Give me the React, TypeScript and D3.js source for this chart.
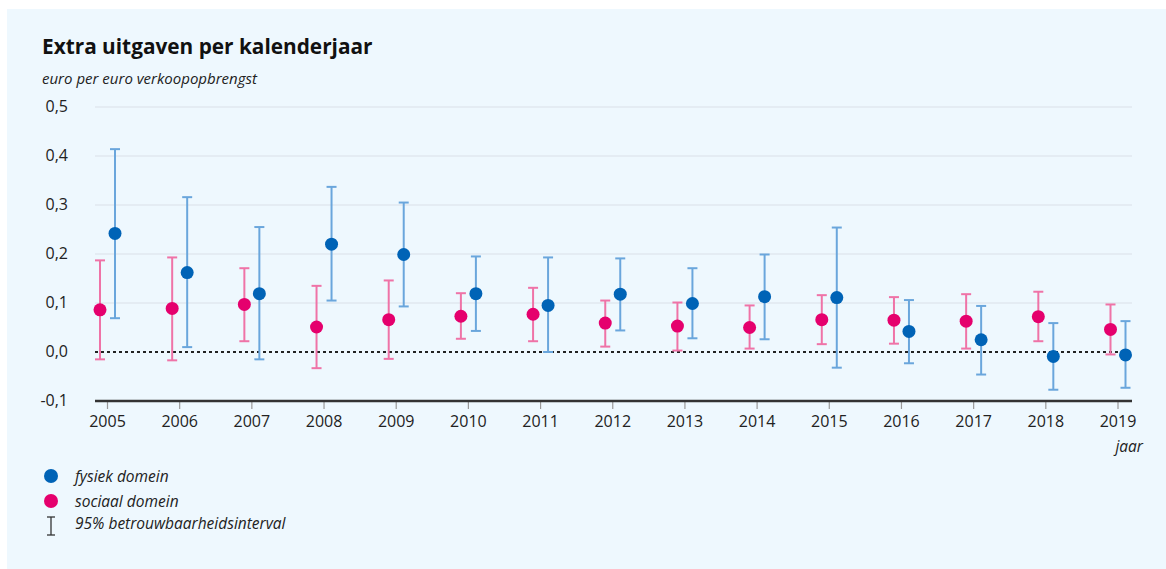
import React from "react";
import * as d3 from "d3";

const years = ["2005","2006","2007","2008","2009","2010","2011","2012","2013","2014","2015","2016","2017","2018","2019"];
const fysiekValue = [0.242,0.162,0.119,0.220,0.199,0.119,0.095,0.118,0.099,0.113,0.111,0.042,0.025,-0.009,-0.006];
const fysiekLow = [0.069,0.010,-0.015,0.105,0.093,0.043,0.000,0.044,0.028,0.026,-0.032,-0.023,-0.046,-0.077,-0.073];
const fysiekHigh = [0.414,0.316,0.255,0.337,0.305,0.195,0.193,0.191,0.171,0.199,0.254,0.106,0.094,0.059,0.063];
const sociaalValue = [0.086,0.089,0.097,0.051,0.066,0.073,0.077,0.059,0.053,0.050,0.066,0.065,0.063,0.072,0.046];
const sociaalLow = [-0.015,-0.017,0.022,-0.033,-0.014,0.027,0.022,0.011,0.003,0.007,0.016,0.017,0.007,0.022,-0.005];
const sociaalHigh = [0.187,0.193,0.171,0.135,0.146,0.120,0.131,0.105,0.101,0.095,0.116,0.112,0.118,0.123,0.097];
const yTicks = [-0.1,0,0.1,0.2,0.3,0.4,0.5];

const W = 1166, H = 569;
const FONT = "'Open Sans', 'Noto Sans', sans-serif";
const BLUE = "#0063b6", BLUE_BAR = "#6aa6dc";
const PINK = "#e5006d", PINK_BAR = "#ef73a7";

export default function App() {
  const x = d3.scalePoint<string>().domain(years).range([107.5, 1118]);
  const y = d3.scaleLinear().domain([-0.1, 0.5]).range([401, 107]);
  const fmt = (v: number) => d3.format(".1f")(v).replace(".", ",").replace("−", "-");
  const off = 7.5;
  const cap = 5;

  const series = [
    { key: "s", dx: -off, val: sociaalValue, lo: sociaalLow, hi: sociaalHigh, c: PINK, bc: PINK_BAR },
    { key: "f", dx: off, val: fysiekValue, lo: fysiekLow, hi: fysiekHigh, c: BLUE, bc: BLUE_BAR },
  ];

  return (
    <svg width={W} height={H} style={{ position: "absolute", left: 0, top: 0 }} xmlns="http://www.w3.org/2000/svg">
      <rect x={0} y={0} width={W} height={H} fill="#ffffff" />
      <rect x={7} y={9} width={W - 7} height={H - 9} fill="#eef8fe" />
      <text x={42} y={54} fontFamily={FONT} fontWeight={700} fontSize={20.8} fill="#111">Extra uitgaven per kalenderjaar</text>
      <text x={42} y={84} fontFamily={FONT} fontStyle="italic" fontSize={15} fill="#222">euro per euro verkoopopbrengst</text>

      {yTicks.filter(t => t > 0).map(t => (
        <line key={"g" + t} x1={95} x2={1132} y1={y(t)} y2={y(t)} stroke="#d9e0e7" strokeWidth={1.2} />
      ))}
      {yTicks.map(t => (
        <text key={"yl" + t} x={68} y={y(t) + 5} textAnchor="end" fontFamily={FONT} fontSize={16} fill="#222">{fmt(t)}</text>
      ))}

      <line x1={95} x2={1132} y1={y(0)} y2={y(0)} stroke="#222" strokeWidth={2} strokeDasharray="3,3" />

      {years.map(yr => (
        <g key={"xt" + yr}>
          <line x1={x(yr)} x2={x(yr)} y1={401} y2={409} stroke="#999" strokeWidth={1.2} />
          <text x={x(yr)} y={427} textAnchor="middle" fontFamily={FONT} fontSize={16} fill="#222">{yr}</text>
        </g>
      ))}
      <line x1={95} x2={1132} y1={401} y2={401} stroke="#333" strokeWidth={2.5} />
      <text x={1143} y={452} textAnchor="end" fontFamily={FONT} fontStyle="italic" fontSize={15.5} fill="#222">jaar</text>

      {series.map(s => (
        <g key={s.key}>
          {years.map((yr, i) => {
            const cx = (x(yr) as number) + s.dx;
            return (
              <g key={yr}>
                <line x1={cx} x2={cx} y1={y(s.lo[i])} y2={y(s.hi[i])} stroke={s.bc} strokeWidth={2} />
                <line x1={cx - cap} x2={cx + cap} y1={y(s.lo[i])} y2={y(s.lo[i])} stroke={s.bc} strokeWidth={2} />
                <line x1={cx - cap} x2={cx + cap} y1={y(s.hi[i])} y2={y(s.hi[i])} stroke={s.bc} strokeWidth={2} />
              </g>
            );
          })}
          {years.map((yr, i) => (
            <circle key={"c" + yr} cx={(x(yr) as number) + s.dx} cy={y(s.val[i])} r={6.5} fill={s.c} />
          ))}
        </g>
      ))}

      <circle cx={51} cy={476} r={7} fill={BLUE} />
      <text x={75} y={482} fontFamily={FONT} fontStyle="italic" fontSize={15.5} fill="#222">fysiek domein</text>
      <circle cx={51} cy={501} r={7} fill={PINK} />
      <text x={75} y={507} fontFamily={FONT} fontStyle="italic" fontSize={15.5} fill="#222">sociaal domein</text>
      <line x1={51} x2={51} y1={517} y2={535} stroke="#333" strokeWidth={1.3} />
      <line x1={47} x2={55} y1={517} y2={517} stroke="#333" strokeWidth={1.3} />
      <line x1={47} x2={55} y1={535} y2={535} stroke="#333" strokeWidth={1.3} />
      <text x={75} y={529} fontFamily={FONT} fontStyle="italic" fontSize={15.5} fill="#222">95% betrouwbaarheidsinterval</text>
    </svg>
  );
}
